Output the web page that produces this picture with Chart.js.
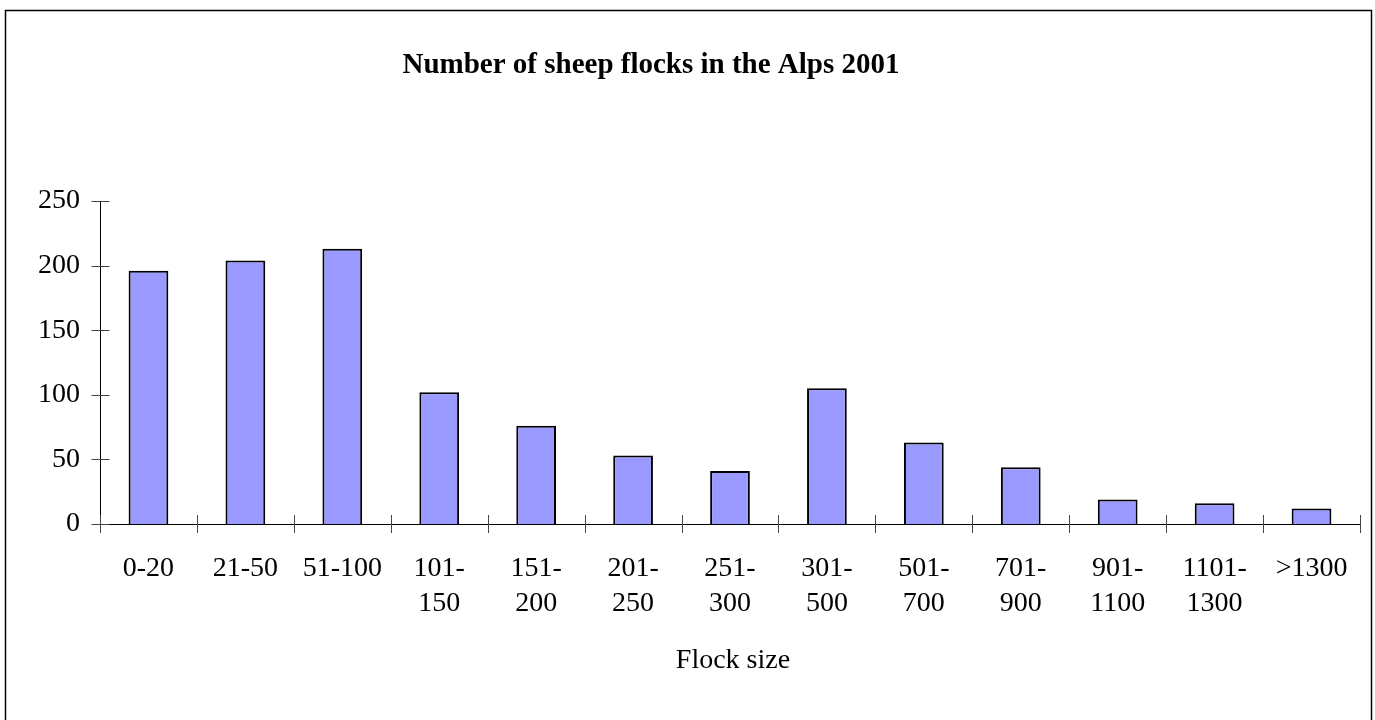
<!DOCTYPE html>
<html>
<head>
<meta charset="utf-8">
<script src="https://cdn.jsdelivr.net/npm/chart.js@4"></script>
<style>
html,body{margin:0;padding:0;background:#fff;}
#wrap{width:1375px;height:720px;position:relative;}
</style>
</head>
<body>
<div id="wrap"><canvas id="c" width="1375" height="720"></canvas></div>
<script>
const chartTitle = "Number of sheep flocks in the Alps 2001";
const xAxisTitle = "Flock size";
const categories = [["0-20"],["21-50"],["51-100"],["101-","150"],["151-","200"],["201-","250"],["251-","300"],["301-","500"],["501-","700"],["701-","900"],["901-","1100"],["1101-","1300"],[">1300"]];
const flockCounts = [196, 204, 213, 102, 76, 53, 41, 105, 63, 44, 19, 16, 12];
const yTicks = [0, 50, 100, 150, 200, 250];

const FONT = "'Liberation Serif', 'Times New Roman', serif";

const decor = {
  id: 'decor',
  afterDraw(chart) {
    const ctx = chart.ctx;
    const xs = chart.scales.x, ys = chart.scales.y;
    ctx.save();
    // frame (left, top, right; bottom edge falls outside the picture)
    ctx.strokeStyle = '#000';
    ctx.lineWidth = 1.5;
    ctx.strokeRect(5.5, 10.5, 1366, 720);
    // y ticks crossing axis
    ctx.lineWidth = 1;
    ctx.strokeStyle = '#444';
    const ax = Math.round(xs.left) + 0.5;
    yTicks.forEach(v => {
      const y = Math.round(ys.getPixelForValue(v)) + 0.5;
      ctx.beginPath(); ctx.moveTo(ax - 9, y); ctx.lineTo(ax + 9, y); ctx.stroke();
    });
    // x ticks crossing axis, at category boundaries
    const ay = Math.round(ys.getPixelForValue(0));
    const n = categories.length;
    const bounds = [xs.left];
    for (let i = 1; i < n; i++) bounds.push((xs.getPixelForTick(i - 1) + xs.getPixelForTick(i)) / 2);
    bounds.push(xs.right);
    bounds.forEach(b => {
      const x = Math.round(b) + 0.5;
      ctx.beginPath(); ctx.moveTo(x, ay - 9); ctx.lineTo(x, ay + 9); ctx.stroke();
    });
    // title
    ctx.fillStyle = '#000';
    ctx.textAlign = 'center';
    ctx.textBaseline = 'middle';
    ctx.font = "bold 29px " + FONT;
    ctx.fillText(chartTitle, 651, 66);
    // x axis title
    ctx.font = "28px " + FONT;
    ctx.fillText(xAxisTitle, (xs.left + xs.right) / 2 + 3, 661);
    ctx.restore();
  }
};

new Chart(document.getElementById('c'), {
  type: 'bar',
  data: {
    labels: categories,
    datasets: [{
      data: flockCounts,
      backgroundColor: '#9999FF',
      borderColor: '#000',
      borderWidth: 2,
      barPercentage: 0.41,
      categoryPercentage: 1.0
    }]
  },
  options: {
    responsive: false,
    animation: false,
    layout: { padding: { left: 0, top: 201, right: 15, bottom: 0 } },
    plugins: { legend: { display: false }, title: { display: false }, tooltip: { enabled: false } },
    scales: {
      x: {
        offset: true,
        grid: { display: false, drawTicks: false },
        border: { display: true, color: '#000', width: 1 },
        afterFit(scale) { scale.height = 196; },
        ticks: {
          color: '#000',
          padding: 27,
          maxRotation: 0,
          autoSkip: false,
          font: { family: FONT, size: 28, lineHeight: 1.25 }
        }
      },
      y: {
        min: 0, max: 250,
        grid: { display: false, drawTicks: false },
        border: { display: true, color: '#000', width: 1 },
        afterFit(scale) { scale.width = 100; },
        afterBuildTicks(scale) { scale.ticks = yTicks.map(v => ({ value: v })); },
        ticks: {
          color: '#000',
          padding: 20,
          font: { family: FONT, size: 28 }
        }
      }
    }
  },
  plugins: [decor]
});
</script>
</body>
</html>
